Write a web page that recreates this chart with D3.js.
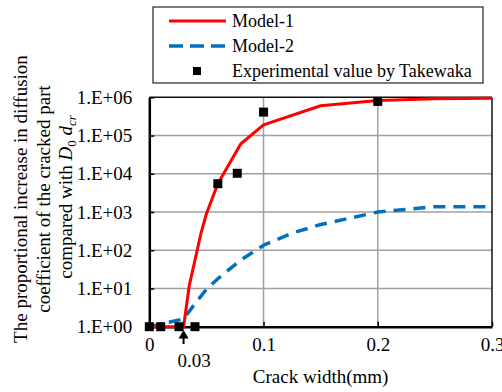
<!DOCTYPE html>
<html>
<head>
<meta charset="utf-8">
<script src="https://d3js.org/d3.v7.min.js"></script>
<style>
  body { margin: 0; background: #fff; }
  svg { display: block; }
  text { font-family: "Liberation Serif", "Times New Roman", serif; fill: #000; }
</style>
</head>
<body>
<svg id="chart" width="502" height="392"></svg>
<script>
  // crack width (mm) and ratio values
  const model1X = [0, 0.03, 0.035, 0.04, 0.045, 0.05, 0.06, 0.08, 0.1, 0.15, 0.2, 0.25, 0.3];
  const model1Y = [1, 1, 12, 55, 260, 900, 5500, 60000, 190000, 600000, 830000, 920000, 950000];
  const model2X = [0, 0.03, 0.04, 0.05, 0.06, 0.08, 0.1, 0.125, 0.15, 0.2, 0.25, 0.3];
  const model2Y = [1, 1.6, 4, 9.5, 18, 55, 135, 280, 470, 1000, 1380, 1380];
  const expX = [0, 0.01, 0.026, 0.04, 0.06, 0.077, 0.1, 0.2];
  const expY = [1, 1, 1, 1, 5500, 10300, 410000, 780000];
  const xTicks = [0, 0.1, 0.2, 0.3];
  const yTicks = [1, 10, 100, 1000, 10000, 100000, 1000000];
  const yTickLabels = ["1.E+00", "1.E+01", "1.E+02", "1.E+03", "1.E+04", "1.E+05", "1.E+06"];
  const legendNames = ["Model-1", "Model-2", "Experimental value by Takewaka"];

  const svg = d3.select("#chart");
  const x = d3.scaleLinear().domain([0, 0.3]).range([149.3, 492]);
  const y = d3.scaleLog().domain([1, 1e6]).range([326.7, 97.3]);

  // grid
  svg.append("g").selectAll("line").data(yTicks.slice(1, -1)).join("line")
    .attr("x1", x(0)).attr("x2", x(0.3))
    .attr("y1", d => y(d)).attr("y2", d => y(d))
    .attr("stroke", "#a0a0a0").attr("stroke-width", 1.5);
  svg.append("g").selectAll("line").data(xTicks.slice(1, -1)).join("line")
    .attr("x1", d => x(d)).attr("x2", d => x(d))
    .attr("y1", y(1)).attr("y2", y(1e6))
    .attr("stroke", "#a0a0a0").attr("stroke-width", 1.5);

  // frame
  svg.append("line").attr("x1", x(0)).attr("x2", x(0.3)).attr("y1", y(1e6)).attr("y2", y(1e6))
    .attr("stroke", "#111").attr("stroke-width", 1.5);
  svg.append("line").attr("x1", x(0.3)).attr("x2", x(0.3)).attr("y1", y(1e6)).attr("y2", y(1))
    .attr("stroke", "#111").attr("stroke-width", 1.5);

  // axes
  const yAxis = d3.axisLeft(y).tickValues(yTicks).tickFormat((d, i) => yTickLabels[i])
    .tickSizeInner(-5).tickSizeOuter(0).tickPadding(17);
  const gy = svg.append("g").attr("transform", `translate(${x(0)},0)`).call(yAxis);
  const xAxis = d3.axisBottom(x).tickValues(xTicks).tickFormat(d3.format("~g"))
    .tickSizeInner(-5).tickSizeOuter(0).tickPadding(11);
  const gx = svg.append("g").attr("transform", `translate(0,${y(1)})`).call(xAxis);
  [gy, gx].forEach(g => {
    g.select(".domain").attr("stroke", "#000").attr("stroke-width", 2.5);
    g.selectAll(".tick line").attr("stroke", "#000").attr("stroke-width", 1.5);
    g.selectAll(".tick text").attr("font-size", 19).attr("font-family", "Liberation Serif").attr("fill", "#000");
  });

  // model curves
  const line = d3.line().x(d => x(d[0])).y(d => y(d[1]));
  svg.append("path").datum(model2X.map((v, i) => [v, model2Y[i]]))
    .attr("d", line).attr("fill", "none").attr("stroke", "#0070c0")
    .attr("stroke-width", 3.5).attr("stroke-dasharray", "12,8");
  svg.append("path").datum(model1X.map((v, i) => [v, model1Y[i]]))
    .attr("d", line).attr("fill", "none").attr("stroke", "#ff0000")
    .attr("stroke-width", 3).attr("stroke-linejoin", "round");

  // experimental points
  svg.append("g").selectAll("rect").data(expX.map((v, i) => [v, expY[i]])).join("rect")
    .attr("x", d => x(d[0]) - 4.5).attr("y", d => y(d[1]) - 4.5)
    .attr("width", 9).attr("height", 9).attr("fill", "#000");

  // marker at 0.03
  const ax = x(0.03);
  svg.append("path").attr("d", `M${ax},330 L${ax - 5},338.5 L${ax + 5},338.5 Z`).attr("fill", "#000");
  svg.append("line").attr("x1", ax).attr("x2", ax).attr("y1", 337).attr("y2", 344)
    .attr("stroke", "#000").attr("stroke-width", 2);
  svg.append("text").attr("x", ax - 6).attr("y", 367).attr("font-size", 19).text("0.03");

  // axis titles
  svg.append("text").attr("x", x(0.15)).attr("y", 383).attr("text-anchor", "middle")
    .attr("font-size", 19).text("Crack width(mm)");
  const yt = svg.append("g").attr("transform", "rotate(-90)");
  yt.append("text").attr("x", -199).attr("y", 27).attr("text-anchor", "middle").attr("font-size", 19)
    .text("The proportional increase in diffusion");
  yt.append("text").attr("x", -199).attr("y", 50).attr("text-anchor", "middle").attr("font-size", 19)
    .text("coefficient of the cracked part");
  const t3 = yt.append("text").attr("x", -197).attr("y", 72).attr("text-anchor", "middle").attr("font-size", 19);
  t3.append("tspan").text("compared with ");
  t3.append("tspan").attr("font-style", "italic").text("D");
  t3.append("tspan").attr("font-size", 13).attr("dy", 4).text("0");
  t3.append("tspan").attr("dy", -4).text(" ");
  t3.append("tspan").attr("font-style", "italic").text("d");
  t3.append("tspan").attr("font-style", "italic").attr("font-size", 13).attr("dy", 4).text("cr");

  // legend
  const lg = svg.append("g");
  lg.append("rect").attr("x", 153).attr("y", 7).attr("width", 330).attr("height", 76)
    .attr("fill", "#fff").attr("stroke", "#222").attr("stroke-width", 1.2);
  const rows = [21, 46, 71];
  lg.append("line").attr("x1", 169).attr("x2", 226).attr("y1", rows[0]).attr("y2", rows[0])
    .attr("stroke", "#ff0000").attr("stroke-width", 3);
  lg.append("line").attr("x1", 169).attr("x2", 226).attr("y1", rows[1]).attr("y2", rows[1])
    .attr("stroke", "#0070c0").attr("stroke-width", 3.5).attr("stroke-dasharray", "14,7");
  lg.append("rect").attr("x", 193).attr("y", rows[2] - 4).attr("width", 8).attr("height", 8).attr("fill", "#000");
  lg.selectAll("text.lt").data(legendNames).join("text").attr("class", "lt")
    .attr("x", 232).attr("y", (d, i) => rows[i] + 6).attr("font-size", 18).text(d => d);
</script>
</body>
</html>
